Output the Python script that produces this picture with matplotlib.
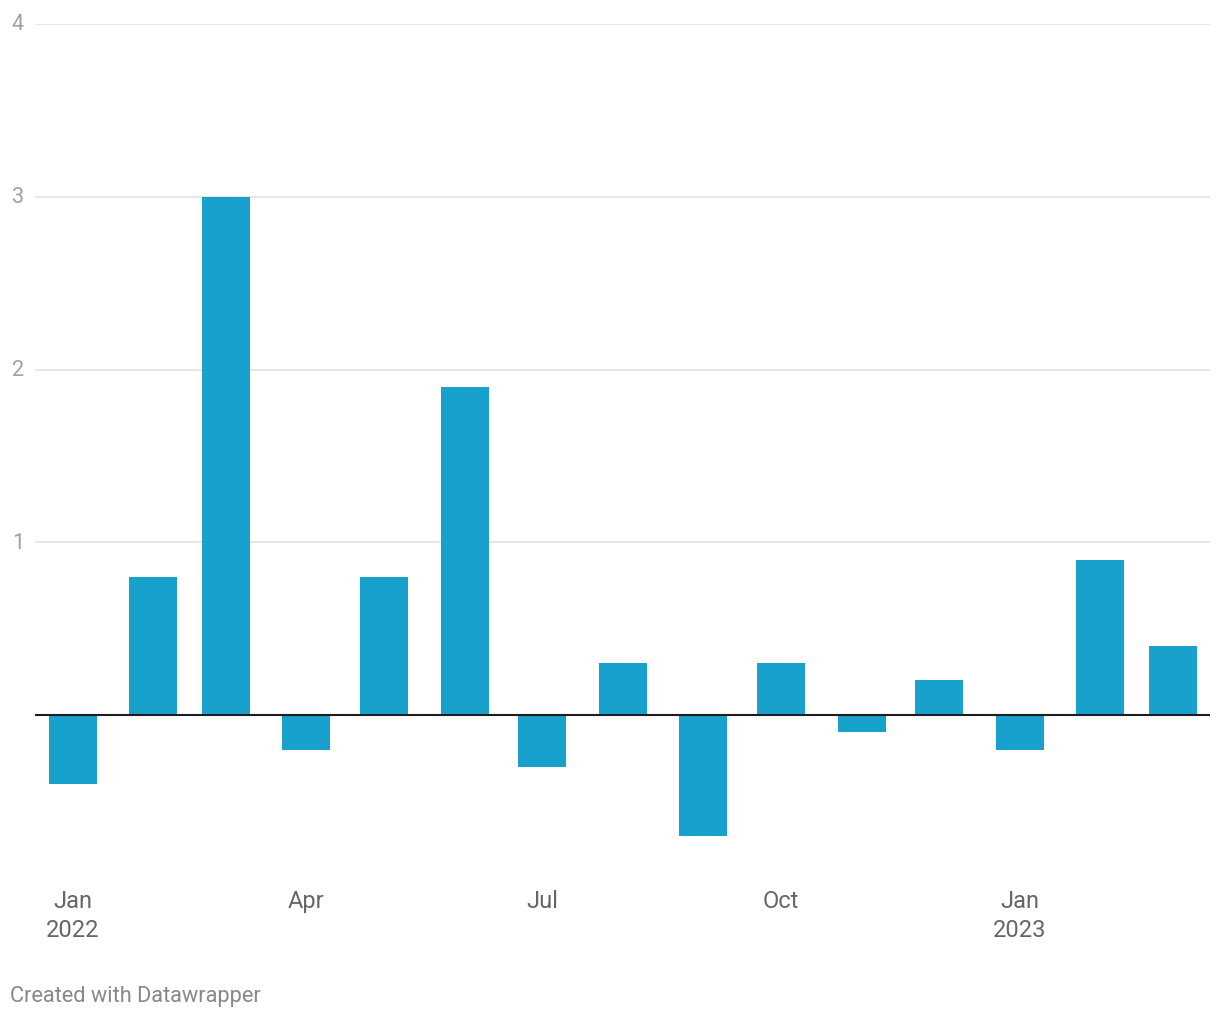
import numpy as np
import matplotlib
matplotlib.use("Agg")
import matplotlib.pyplot as plt
import matplotlib.dates as mdates
from datetime import date, timedelta

plt.rcParams['font.family'] = ['Roboto', 'DejaVu Sans']

months = [date(2022, m, 1) for m in range(1, 13)] + [date(2023, m, 1) for m in range(1, 4)]
values = [-0.4, 0.8, 3.0, -0.2, 0.8, 1.9, -0.3, 0.3, -0.7, 0.3, -0.1, 0.2, -0.2, 0.9, 0.4]
tick_dates = [date(2022, 1, 1), date(2022, 4, 1), date(2022, 7, 1), date(2022, 10, 1), date(2023, 1, 1)]
tick_labels = ["Jan\n2022", "Apr", "Jul", "Oct", "Jan\n2023"]
y_ticks = [1, 2, 3, 4]

W, H = 1220, 1020
fig = plt.figure(figsize=(W / 100, H / 100), dpi=100)
ax = fig.add_axes([35 / W, 1 - 871.5 / H, (1210 - 35) / W, (871.5 - 25) / H])

ax.bar(months, values, width=18.5, color='#18a1cd', zorder=2)
ax.axhline(0, color='#1d1d1d', lw=1.5, zorder=3)
for y in y_ticks:
    ax.axhline(y, color='#e3e3e3', lw=1.2, zorder=1)

ax.set_xlim(mdates.date2num(date(2022, 1, 1)) - 14.6, mdates.date2num(date(2023, 3, 1)) + 14.3)
ax.set_ylim(-0.9, 4)

for s in ax.spines.values():
    s.set_visible(False)
ax.set_yticks([])
ax.set_xticks([])

# y labels sit left of the plot area
for y in y_ticks:
    ax.text(-17 / (1210 - 35), y, str(y), transform=ax.get_yaxis_transform(), ha='center', va='center',
            fontsize=15.5, color='#a0a0a0')

for d, lab in zip(tick_dates, tick_labels):
    ax.text(mdates.date2num(d), -0.9 - 18 / 172.7, lab, ha='center', va='top',
            fontsize=17, color='#666666', linespacing=1.35)

fig.text(10 / W, 1 - 997 / H, "Created with Datawrapper", ha='left', va='center',
         fontsize=15.7, color='#888888')

fig.savefig("out.png", dpi=100)
